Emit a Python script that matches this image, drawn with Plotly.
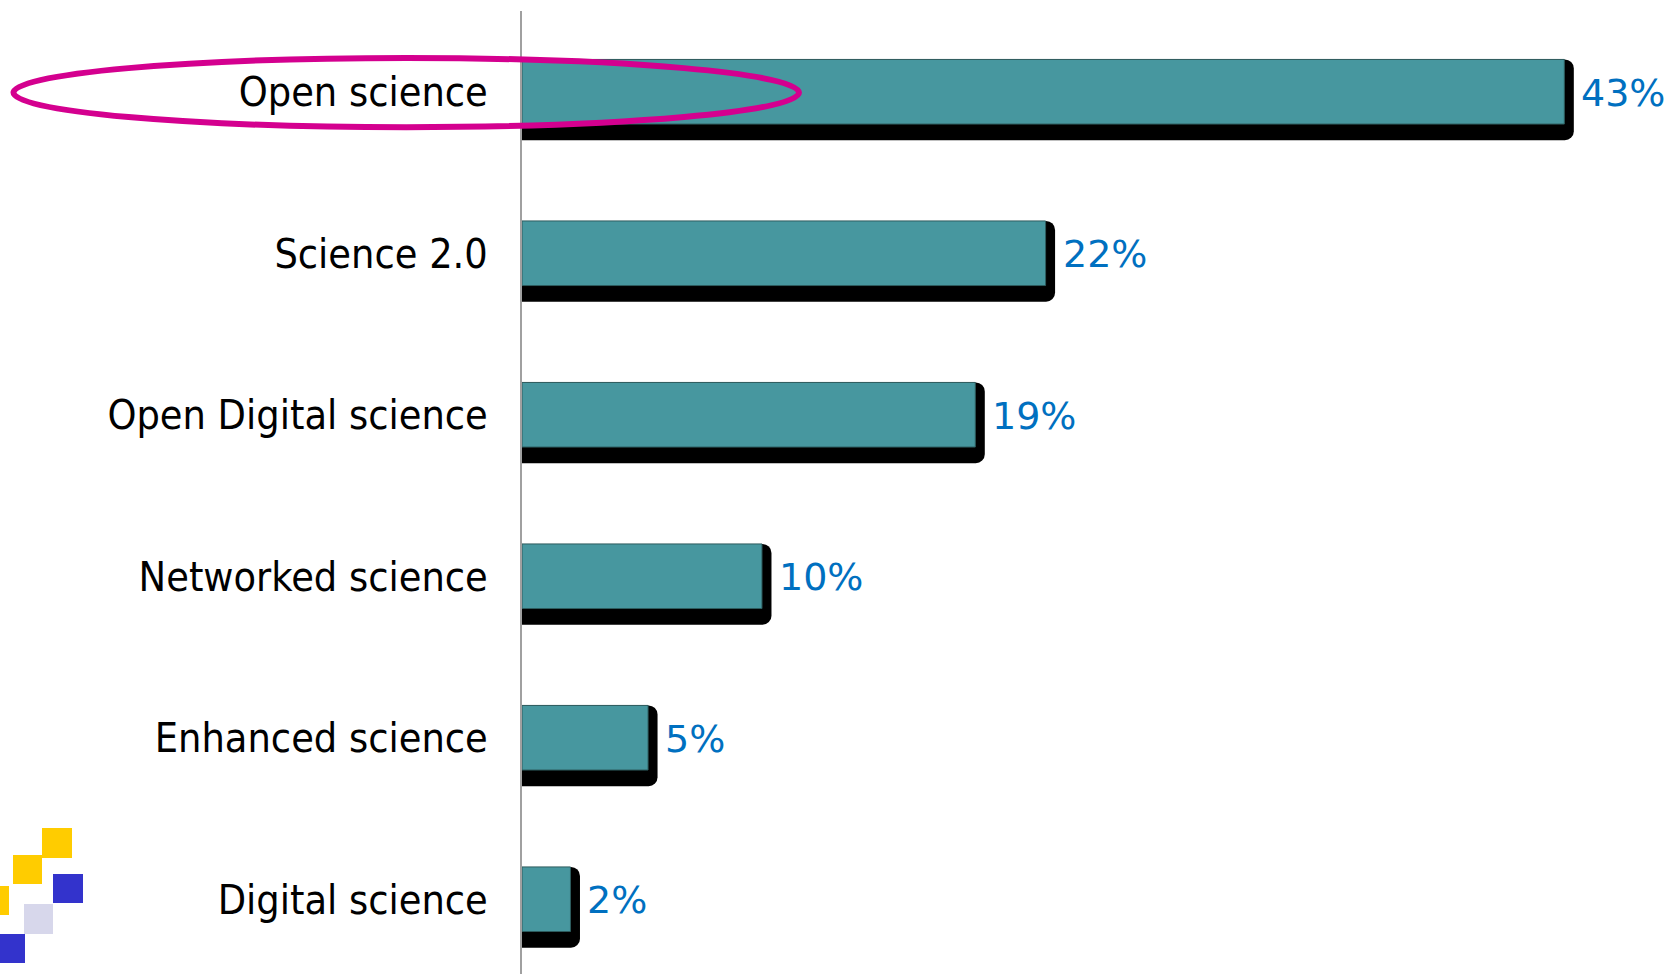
import plotly.graph_objects as go

# ---- data ----
categories = ["Open science", "Science 2.0", "Open Digital science",
              "Networked science", "Enhanced science", "Digital science"]
values = [43.0, 21.6, 18.7, 9.9, 5.2, 2.0]          # percent
value_labels = [f"{round(v)}%" for v in values]

# ---- layout constants (pixels) ----
W, H = 1669, 974
ML, MR, MT, MB = 522, 0, 11, 0
PW, PH = W - ML - MR, H - MT - MB
PX_PER_UNIT = 24.24                      # px per percent
X_MAX = PW / PX_PER_UNIT
Y_RANGE = [-0.463, 5.5]

n = len(categories)
positions = [n - 1 - i for i in range(n)]  # first category at top

TEAL = "#47979F"
SHADOW_DX = 9.5 / PX_PER_UNIT

fig = go.Figure()

# shadow bars
fig.add_trace(go.Bar(
    orientation="h", y=positions, x=[v + SHADOW_DX for v in values],
    width=0.5, offset=-0.3,
    marker=dict(color="black", cornerradius=9, line=dict(width=0)),
    hoverinfo="skip", showlegend=False,
))
# teal bars
fig.add_trace(go.Bar(
    orientation="h", y=positions, x=values,
    width=0.4, offset=-0.2,
    marker=dict(color=TEAL, line=dict(color="#2E5C5E", width=1)),
    hoverinfo="skip", showlegend=False,
))

# value labels
annotations = []
for v, p, t in zip(values, positions, value_labels):
    annotations.append(dict(
        x=v, y=p, xref="x", yref="y", text=t, showarrow=False,
        xanchor="left", yanchor="middle", xshift=15, yshift=-1,
        font=dict(family="DejaVu Sans, Verdana, sans-serif", size=38, color="#0070C0"),
    ))


def px2paper_x(px):
    return (px - ML) / PW


def px2paper_y(py):
    return (H - MB - py) / PH


shapes = []
# highlight ellipse around "Open science"
shapes.append(dict(
    type="circle", xref="paper", yref="paper",
    x0=px2paper_x(13.5), x1=px2paper_x(799.0),
    y0=px2paper_y(127.2), y1=px2paper_y(58.0),
    line=dict(color="#D4008F", width=6), layer="above",
))

# decorative logo squares (bottom-left)
squares = [
    (42, 72, 828, 858, "#FFCC00"),
    (13, 42, 855, 884, "#FFCC00"),
    (-2, 9, 886, 915, "#FFCC00"),
    (53, 83, 874, 903, "#3333CC"),
    (24, 53, 904, 934, "#D7D7EB"),
    (-2, 25, 934, 963, "#3333CC"),
]
for x0, x1, y0, y1, c in squares:
    shapes.append(dict(
        type="rect", xref="paper", yref="paper",
        x0=px2paper_x(x0), x1=px2paper_x(x1),
        y0=px2paper_y(y1), y1=px2paper_y(y0),
        fillcolor=c, line=dict(width=0), layer="above",
    ))

fig.update_layout(
    width=W, height=H, autosize=False,
    margin=dict(l=ML, r=MR, t=MT, b=MB, pad=0),
    paper_bgcolor="white", plot_bgcolor="white",
    barmode="overlay", showlegend=False,
    annotations=annotations, shapes=shapes,
    xaxis=dict(range=[0, X_MAX], visible=False, fixedrange=True),
    yaxis=dict(
        range=Y_RANGE, tickmode="array", tickvals=positions, ticktext=categories,
        showline=True, linecolor="#A0A0A0", linewidth=2, mirror=False,
        showgrid=False, zeroline=False, ticks="", ticklabelstandoff=24,
        tickfont=dict(family="DejaVu Sans Condensed, Liberation Sans, sans-serif",
                      size=41, color="black"),
        fixedrange=True,
    ),
)

fig.write_html("out.html", config=dict(displayModeBar=False))
